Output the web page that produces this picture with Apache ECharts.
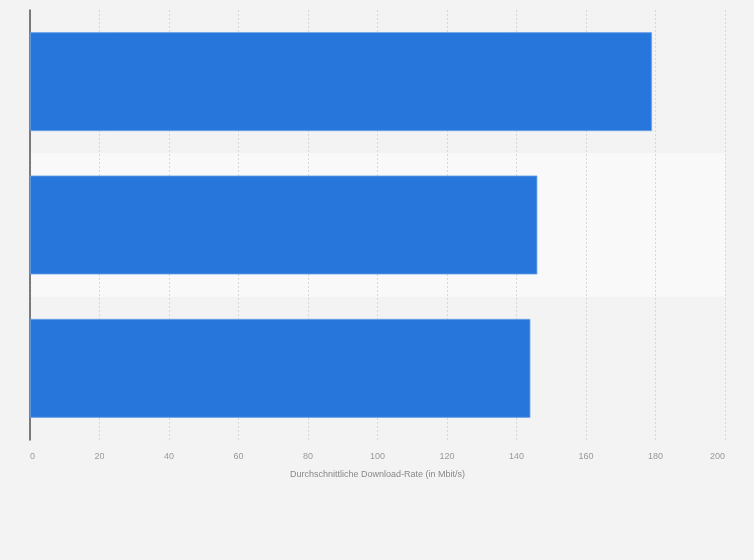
<!DOCTYPE html>
<html>
<head>
<meta charset="utf-8">
<script src="https://cdn.jsdelivr.net/npm/echarts@6/dist/echarts.min.js"></script>
<style>
  html, body { margin: 0; padding: 0; background: #f3f3f3; }
  #chart { width: 754px; height: 560px; }
</style>
</head>
<body>
<div id="chart"></div>
<script>
// Kategorien (Beschriftungen im Original nicht sichtbar)
var categories = ['Anbieter 1', 'Anbieter 2', 'Anbieter 3'];
var rates = [179, 146, 144];
var tickMax = 200;
var tickStep = 20;

var chart = echarts.init(document.getElementById('chart'));

var option = {
    backgroundColor: '#f3f3f3',
    animation: false,
    grid: {
        left: 30,
        right: 29,
        top: 10,
        bottom: 120
    },
    xAxis: {
        type: 'value',
        min: 0,
        max: tickMax,
        interval: tickStep,
        name: 'Durchschnittliche Download-Rate (in Mbit/s)',
        nameLocation: 'middle',
        nameGap: 30,
        nameTextStyle: { color: '#888', fontSize: 9, fontFamily: 'Liberation Sans' },
        axisLine: { show: false },
        axisTick: { show: false },
        axisLabel: {
            color: '#999', fontSize: 9, fontFamily: 'Liberation Sans', margin: 12,
            alignMinLabel: 'left', alignMaxLabel: 'right'
        },
        splitLine: { lineStyle: { color: '#d8d8d8', type: [2, 2], width: 1 } }
    },
    yAxis: {
        type: 'category',
        data: categories,
        inverse: true,
        axisLine: { show: true, lineStyle: { color: '#555', width: 1.5 } },
        axisTick: { show: false },
        axisLabel: { show: false },
        splitArea: { show: true, areaStyle: { color: ['rgba(0,0,0,0)', '#f9f9f9'] } }
    },
    series: [{
        type: 'bar',
        data: rates,
        barWidth: '69%',
        itemStyle: {
            color: '#2676db',
            borderColor: '#6ea3e8',
            borderWidth: 0.8
        }
    }]
};

chart.setOption(option);
</script>
</body>
</html>
